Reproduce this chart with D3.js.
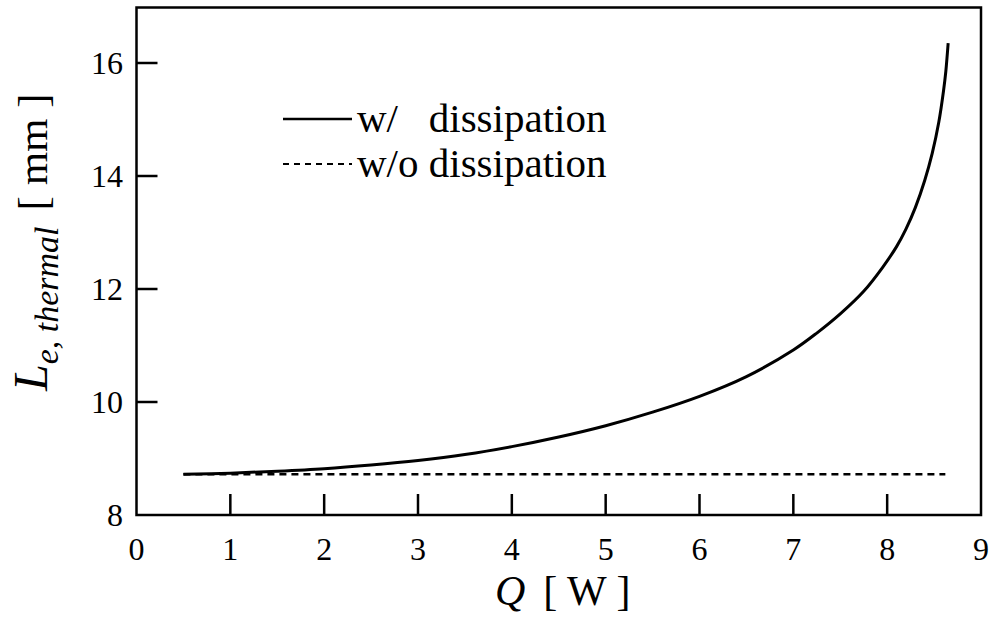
<!DOCTYPE html>
<html>
<head>
<meta charset="utf-8">
<script src="https://cdn.jsdelivr.net/npm/d3@7"></script>
<style>
  html, body { margin: 0; padding: 0; background: #fff; }
  svg { display: block; }
  text { font-family: "Liberation Serif", "Times New Roman", serif; fill: #000; }
</style>
</head>
<body>
<svg id="chart" width="992" height="628"></svg>
<script>
// Heat load Q [W] and thermal length L_e [mm]
const qWith = [0.5, 1.0, 1.5, 2.0, 2.5, 3.0, 3.5, 4.0, 4.5, 5.0, 5.5, 6.0, 6.5, 7.0, 7.25, 7.5, 7.75, 7.95, 8.1, 8.2, 8.3, 8.4, 8.48, 8.55, 8.6, 8.625, 8.65];
const lWith = [8.72, 8.74, 8.775, 8.82, 8.885, 8.965, 9.07, 9.21, 9.38, 9.58, 9.82, 10.10, 10.45, 10.92, 11.22, 11.56, 11.96, 12.38, 12.75, 13.06, 13.44, 13.92, 14.40, 14.95, 15.50, 15.85, 16.35];
const qWithout = [0.5, 8.62];
const lWithout = [8.72, 8.72];

const xTicks = [0, 1, 2, 3, 4, 5, 6, 7, 8, 9];
const yTicks = [8, 10, 12, 14, 16];

const svg = d3.select("#chart");
const plotL = 136.5, plotR = 981, plotT = 7.5, plotB = 515;

const x = d3.scaleLinear().domain([0, 9]).range([plotL, plotR]);
const y = d3.scaleLinear().domain([8, 16]).range([plotB, 63]);

// frame
svg.append("rect")
  .attr("x", plotL).attr("y", plotT)
  .attr("width", plotR - plotL).attr("height", plotB - plotT)
  .attr("fill", "none").attr("stroke", "#000").attr("stroke-width", 2.5);

// inward ticks
const tickLen = 21;
svg.append("g").selectAll("line")
  .data(xTicks.filter(d => d > 0 && d < 9))
  .join("line")
  .attr("x1", d => x(d)).attr("x2", d => x(d))
  .attr("y1", plotB).attr("y2", plotB - tickLen)
  .attr("stroke", "#000").attr("stroke-width", 2.5);

svg.append("g").selectAll("line")
  .data(yTicks.filter(d => d > 8))
  .join("line")
  .attr("x1", plotL).attr("x2", plotL + tickLen)
  .attr("y1", d => y(d)).attr("y2", d => y(d))
  .attr("stroke", "#000").attr("stroke-width", 2.5);

// tick labels
svg.append("g").selectAll("text")
  .data(xTicks)
  .join("text")
  .attr("x", d => x(d)).attr("y", 560)
  .attr("text-anchor", "middle")
  .style("font-size", "32px")
  .text(d => d);

svg.append("g").selectAll("text")
  .data(yTicks)
  .join("text")
  .attr("x", 123).attr("y", d => y(d) + 11)
  .attr("text-anchor", "end")
  .style("font-size", "32px")
  .text(d => d);

// curves
const lineGen = d3.line()
  .x(d => x(d[0])).y(d => y(d[1]))
  .curve(d3.curveCatmullRom.alpha(0.5));

svg.append("path")
  .datum(d3.zip(qWithout, lWithout))
  .attr("d", lineGen)
  .attr("fill", "none").attr("stroke", "#000")
  .attr("stroke-width", 2.5).attr("stroke-dasharray", "7,5");

svg.append("path")
  .datum(d3.zip(qWith, lWith))
  .attr("d", lineGen)
  .attr("fill", "none").attr("stroke", "#000")
  .attr("stroke-width", 3);

// legend
const lgFont = "41px";
const lgX = 357;
const lg = svg.append("g");
lg.append("line").attr("x1", 283).attr("x2", 352).attr("y1", 119).attr("y2", 119)
  .attr("stroke", "#000").attr("stroke-width", 2.5);
lg.append("line").attr("x1", 283).attr("x2", 352).attr("y1", 164).attr("y2", 164)
  .attr("stroke", "#000").attr("stroke-width", 2).attr("stroke-dasharray", "6,5");
const full = lg.append("text").attr("x", lgX).attr("y", 177).style("font-size", lgFont)
  .text("w/o dissipation");
const word = lg.append("text").attr("x", 0).attr("y", -100).style("font-size", lgFont).text("dissipation");
const offset = full.node().getComputedTextLength() - word.node().getComputedTextLength();
word.remove();
lg.append("text").attr("x", lgX).attr("y", 132).style("font-size", lgFont).text("w/");
lg.append("text").attr("x", lgX + offset).attr("y", 132).style("font-size", lgFont).text("dissipation");

// x axis title
const xt = svg.append("text").attr("x", 495).attr("y", 605).style("font-size", "42px");
xt.append("tspan").style("font-style", "italic").text("Q");
xt.append("tspan").attr("dx", 18).text("[ W ]");

// y axis title
const yt = svg.append("text")
  .attr("transform", "translate(47,391) rotate(-90)")
  .style("font-size", "48px");
yt.append("tspan").style("font-style", "italic").text("L");
yt.append("tspan").attr("dy", 11).style("font-style", "italic").style("font-size", "34px").text("e, thermal");
yt.append("tspan").attr("dy", -11).attr("dx", 16).style("font-size", "43px").text("[ mm ]");
</script>
</body>
</html>
